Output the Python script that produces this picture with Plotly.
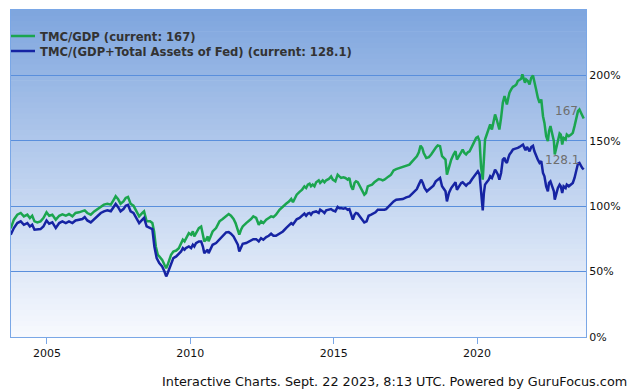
import plotly.graph_objects as go
import pandas as pd

# ---- data (decimal years, percent) ----
gdp_years = [2003.74, 2003.85, 2003.97, 2004.09, 2004.20, 2004.32, 2004.41, 2004.49, 2004.57, 2004.67,
             2004.78, 2004.88, 2004.99, 2005.08, 2005.19, 2005.31, 2005.43, 2005.54, 2005.66, 2005.77,
             2005.89, 2006.00, 2006.12, 2006.24, 2006.32, 2006.41, 2006.53, 2006.65, 2006.76, 2006.88,
             2006.99, 2007.11, 2007.23, 2007.32, 2007.40, 2007.48, 2007.57, 2007.67, 2007.75, 2007.83,
             2007.92, 2008.02, 2008.10, 2008.22, 2008.33, 2008.39, 2008.48, 2008.60, 2008.68, 2008.74,
             2008.80, 2008.87, 2008.92, 2009.02, 2009.10, 2009.16, 2009.21, 2009.27, 2009.33, 2009.41,
             2009.51, 2009.60, 2009.68, 2009.74, 2009.80, 2009.85, 2009.95, 2010.03, 2010.09, 2010.14,
             2010.20, 2010.30, 2010.38, 2010.44, 2010.49, 2010.55, 2010.61, 2010.64, 2010.73, 2010.78,
             2010.90, 2011.02, 2011.13, 2011.25, 2011.34, 2011.42, 2011.51, 2011.58, 2011.66, 2011.71,
             2011.77, 2011.83, 2011.95, 2012.04, 2012.12, 2012.20, 2012.30, 2012.39, 2012.47, 2012.55,
             2012.65, 2012.74, 2012.82, 2012.90, 2012.99, 2013.11, 2013.23, 2013.34, 2013.44, 2013.52,
             2013.58, 2013.65, 2013.71, 2013.81, 2013.90, 2013.98, 2014.04, 2014.10, 2014.16, 2014.21,
             2014.27, 2014.33, 2014.39, 2014.48, 2014.53, 2014.62, 2014.68, 2014.74, 2014.83, 2014.91,
             2014.97, 2015.06, 2015.14, 2015.20, 2015.26, 2015.34, 2015.41, 2015.49, 2015.55, 2015.61,
             2015.67, 2015.73, 2015.78, 2015.84, 2015.92, 2015.99, 2016.07, 2016.13, 2016.19, 2016.25,
             2016.34, 2016.42, 2016.50, 2016.57, 2016.66, 2016.71, 2016.77, 2016.83, 2016.92, 2017.00,
             2017.09, 2017.18, 2017.30, 2017.41, 2017.53, 2017.64, 2017.74, 2017.82, 2017.90, 2017.97,
             2018.03, 2018.09, 2018.14, 2018.23, 2018.32, 2018.40, 2018.48, 2018.57, 2018.63, 2018.71,
             2018.78, 2018.83, 2018.90, 2018.95, 2019.02, 2019.10, 2019.18, 2019.25, 2019.30, 2019.37,
             2019.45, 2019.50, 2019.56, 2019.62, 2019.68, 2019.74, 2019.83, 2019.91, 2019.97, 2020.03,
             2020.09, 2020.14, 2020.18, 2020.20, 2020.24, 2020.28, 2020.34, 2020.41, 2020.46, 2020.52,
             2020.59, 2020.63, 2020.67, 2020.73, 2020.78, 2020.84, 2020.90, 2020.96, 2020.99, 2021.04,
             2021.09, 2021.13, 2021.19, 2021.25, 2021.31, 2021.37, 2021.42, 2021.48, 2021.54, 2021.58,
             2021.62, 2021.67, 2021.71, 2021.77, 2021.83, 2021.89, 2021.95, 2022.00, 2022.06, 2022.12,
             2022.18, 2022.24, 2022.30, 2022.35, 2022.41, 2022.47, 2022.51, 2022.56, 2022.62, 2022.68,
             2022.71, 2022.76, 2022.82, 2022.88, 2022.92, 2022.97, 2023.02, 2023.09, 2023.13, 2023.20,
             2023.28, 2023.34, 2023.40, 2023.46, 2023.52, 2023.57, 2023.63, 2023.67, 2023.72]
tmc_gdp = [83.0, 89.7, 93.5, 94.8, 92.2, 93.5, 90.9, 92.7, 88.4, 87.6,
           88.4, 90.9, 95.3, 92.7, 93.5, 89.7, 92.7, 93.7, 92.7, 94.0,
           92.2, 94.8, 95.3, 96.0, 96.8, 94.8, 93.5, 96.0, 97.8, 99.9,
           101.2, 101.9, 101.2, 104.5, 107.6, 105.6, 101.9, 103.7, 106.3, 107.1,
           101.9, 100.4, 97.3, 92.2, 94.8, 96.0, 88.4, 88.4, 87.1, 80.7,
           69.2, 62.8, 61.6, 59.0, 55.2, 52.6, 55.2, 59.0, 62.8, 65.4,
           66.1, 67.9, 71.8, 74.4, 73.1, 75.6, 79.4, 78.2, 80.7, 76.9,
           79.4, 83.3, 84.5, 79.4, 73.1, 74.4, 76.9, 73.1, 78.2, 80.7,
           83.3, 88.4, 90.2, 92.7, 94.0, 92.7, 90.2, 87.1, 82.0, 78.2,
           82.0, 84.5, 87.1, 88.4, 90.2, 92.2, 91.0, 85.8, 88.4, 87.1,
           89.7, 91.0, 92.2, 91.7, 93.5, 97.3, 99.9, 101.9, 103.5, 105.5,
           103.0, 106.3, 108.8, 111.0, 112.7, 115.2, 113.9, 116.5, 117.2, 115.2,
           116.5, 115.2, 118.3, 119.8, 117.8, 119.8, 118.3, 119.8, 120.8, 122.8,
           120.3, 119.0, 124.1, 122.8, 121.6, 122.1, 121.6, 120.3, 121.6, 115.2,
           112.7, 117.8, 119.0, 118.3, 115.2, 111.4, 108.8, 110.1, 115.2, 115.7,
           116.5, 118.3, 119.8, 120.8, 120.3, 119.8, 120.3, 121.6, 122.8, 124.1,
           127.4, 128.4, 129.2, 130.0, 131.0, 131.8, 134.3, 136.1, 138.1, 141.2,
           146.3, 144.5, 140.7, 136.9, 137.5, 139.5, 142.5, 145.0, 146.4, 145.9,
           138.2, 136.9, 135.6, 124.1, 130.5, 135.6, 139.5, 142.0, 135.6, 138.2,
           142.0, 143.3, 140.7, 139.5, 141.2, 142.0, 145.9, 149.7, 152.2, 153.0,
           149.7, 130.5, 121.6, 120.3, 135.6, 151.0, 154.8, 159.9, 162.5, 158.6,
           165.0, 170.1, 167.6, 162.5, 158.6, 167.6, 179.1, 184.2, 181.6, 177.8,
           182.9, 186.7, 189.3, 191.3, 191.9, 193.1, 195.7, 196.9, 197.4, 200.8,
           198.2, 194.4, 196.9, 195.7, 193.1, 198.2, 200.0, 195.7, 189.3, 182.9,
           179.1, 181.6, 168.8, 163.7, 153.5, 149.7, 157.3, 161.2, 154.8, 149.7,
           139.5, 144.6, 151.0, 155.6, 154.8, 147.1, 152.2, 151.0, 154.8, 153.5,
           154.8, 156.1, 161.2, 167.6, 172.7, 173.9, 171.4, 168.8, 167.0]

fed_years = [2003.74, 2003.85, 2003.97, 2004.09, 2004.20, 2004.32, 2004.41, 2004.49, 2004.57, 2004.67,
             2004.78, 2004.88, 2004.99, 2005.08, 2005.19, 2005.31, 2005.43, 2005.54, 2005.66, 2005.77,
             2005.89, 2006.00, 2006.12, 2006.24, 2006.32, 2006.41, 2006.53, 2006.65, 2006.76, 2006.88,
             2006.99, 2007.11, 2007.23, 2007.32, 2007.40, 2007.48, 2007.57, 2007.67, 2007.75, 2007.83,
             2007.92, 2008.02, 2008.10, 2008.22, 2008.33, 2008.39, 2008.48, 2008.60, 2008.68, 2008.75,
             2008.83, 2008.92, 2009.02, 2009.10, 2009.16, 2009.21, 2009.27, 2009.33, 2009.41, 2009.51,
             2009.60, 2009.68, 2009.74, 2009.80, 2009.85, 2009.95, 2010.03, 2010.09, 2010.14, 2010.20,
             2010.30, 2010.38, 2010.44, 2010.49, 2010.55, 2010.61, 2010.64, 2010.73, 2010.78, 2010.90,
             2011.02, 2011.13, 2011.25, 2011.34, 2011.42, 2011.51, 2011.58, 2011.66, 2011.71, 2011.77,
             2011.83, 2011.95, 2012.04, 2012.12, 2012.20, 2012.30, 2012.39, 2012.47, 2012.55, 2012.65,
             2012.74, 2012.82, 2012.90, 2012.99, 2013.11, 2013.23, 2013.34, 2013.44, 2013.52, 2013.58,
             2013.65, 2013.71, 2013.81, 2013.90, 2013.98, 2014.04, 2014.10, 2014.16, 2014.21, 2014.27,
             2014.39, 2014.48, 2014.53, 2014.62, 2014.68, 2014.74, 2014.83, 2014.91, 2014.97, 2015.06,
             2015.14, 2015.20, 2015.26, 2015.34, 2015.41, 2015.49, 2015.55, 2015.61, 2015.67, 2015.73,
             2015.78, 2015.84, 2015.92, 2015.99, 2016.07, 2016.15, 2016.22, 2016.31, 2016.39, 2016.46,
             2016.54, 2016.60, 2016.69, 2016.77, 2016.83, 2016.92, 2017.00, 2017.09, 2017.18, 2017.30,
             2017.41, 2017.53, 2017.64, 2017.74, 2017.82, 2017.90, 2017.97, 2018.05, 2018.11, 2018.17,
             2018.25, 2018.32, 2018.40, 2018.48, 2018.56, 2018.63, 2018.71, 2018.78, 2018.83, 2018.90,
             2018.95, 2019.02, 2019.10, 2019.18, 2019.25, 2019.30, 2019.37, 2019.45, 2019.50, 2019.56,
             2019.62, 2019.68, 2019.74, 2019.83, 2019.91, 2019.97, 2020.03, 2020.09, 2020.14, 2020.18,
             2020.20, 2020.24, 2020.28, 2020.34, 2020.41, 2020.46, 2020.52, 2020.59, 2020.63, 2020.67,
             2020.73, 2020.78, 2020.84, 2020.90, 2020.96, 2020.99, 2021.04, 2021.09, 2021.13, 2021.19,
             2021.25, 2021.31, 2021.37, 2021.42, 2021.48, 2021.54, 2021.60, 2021.65, 2021.69, 2021.74,
             2021.78, 2021.83, 2021.89, 2021.95, 2022.00, 2022.06, 2022.12, 2022.18, 2022.24, 2022.30,
             2022.35, 2022.41, 2022.47, 2022.51, 2022.56, 2022.62, 2022.68, 2022.71, 2022.76, 2022.82,
             2022.88, 2022.92, 2022.97, 2023.02, 2023.09, 2023.13, 2023.20, 2023.28, 2023.34, 2023.40,
             2023.46, 2023.52, 2023.57, 2023.63, 2023.67, 2023.72]
tmc_gdp_fed = [78.2, 83.3, 87.1, 88.4, 85.8, 87.1, 84.5, 85.8, 82.0, 82.0,
               82.5, 84.5, 89.1, 86.6, 87.6, 83.3, 87.1, 88.4, 87.1, 88.4,
               87.1, 89.1, 89.7, 90.2, 91.7, 89.1, 87.6, 90.2, 92.2, 94.8,
               96.1, 96.8, 96.1, 98.6, 101.7, 99.4, 96.1, 97.8, 100.4, 101.1,
               96.1, 94.8, 91.7, 87.1, 89.7, 91.0, 84.5, 83.3, 82.5, 69.2,
               60.3, 56.5, 53.9, 50.1, 46.3, 48.8, 52.6, 56.5, 60.3, 61.6,
               64.1, 65.4, 68.0, 66.7, 68.0, 69.2, 68.0, 70.5, 69.2, 71.8,
               73.1, 73.1, 69.2, 64.1, 65.4, 66.7, 64.1, 68.0, 70.5, 71.8,
               74.8, 77.4, 80.0, 80.2, 79.0, 76.9, 74.4, 70.5, 65.4, 69.2,
               71.3, 71.8, 73.1, 73.8, 74.8, 74.8, 73.1, 75.6, 74.4, 76.4,
               77.4, 79.0, 77.4, 77.4, 79.4, 80.7, 83.3, 85.0, 87.0, 86.0,
               88.0, 90.0, 91.0, 92.7, 94.3, 92.7, 94.3, 94.8, 93.5, 95.3,
               96.0, 94.8, 97.3, 96.0, 94.8, 96.8, 97.3, 97.8, 96.8, 96.0,
               99.4, 98.4, 98.6, 98.1, 98.6, 97.3, 97.8, 93.5, 89.7, 93.5,
               94.8, 94.3, 92.2, 89.7, 87.6, 88.4, 92.7, 93.5, 94.3, 95.3,
               97.3, 97.3, 96.8, 97.3, 97.8, 99.9, 101.1, 103.7, 105.0, 105.0,
               105.5, 106.8, 107.5, 109.6, 111.4, 113.1, 116.5, 120.3, 117.7, 113.9,
               111.4, 112.6, 114.7, 115.7, 119.0, 120.5, 121.6, 115.2, 113.9, 111.4,
               103.7, 110.1, 113.9, 116.5, 118.3, 112.6, 115.2, 117.8, 118.3, 117.2,
               115.7, 117.2, 117.8, 120.8, 123.4, 125.4, 126.7, 124.1, 111.4, 99.9,
               96.8, 110.1, 116.5, 118.3, 120.3, 122.9, 121.6, 125.4, 128.0, 126.7,
               124.1, 120.3, 125.4, 135.6, 136.9, 134.4, 133.1, 136.9, 139.5, 141.3,
               143.3, 143.8, 144.6, 144.6, 145.3, 145.9, 147.1, 144.6, 142.8, 145.3,
               143.3, 142.0, 145.3, 146.2, 142.0, 138.2, 135.6, 133.1, 134.4, 125.4,
               122.9, 115.2, 111.4, 117.8, 119.0, 115.2, 111.4, 105.0, 110.1, 113.9,
               116.5, 115.2, 110.1, 115.2, 113.9, 116.5, 115.2, 116.5, 117.8, 121.6,
               128.0, 132.6, 133.1, 130.5, 129.2, 128.1]

x_range_years = [2003.75, 2023.80]
x_ticks = [2005, 2010, 2015, 2020]
y_ticks = [0, 50, 100, 150, 200]
y_range = [0, 250]
series_names = ["TMC/GDP", "TMC/(GDP+Total Assets of Fed)"]
series_colors = ["#1ba54f", "#1624a3"]
footer = "Interactive Charts. Sept. 22 2023, 8:13 UTC. Powered by GuruFocus.com"


def to_date(y):
    base = int(y)
    return pd.Timestamp(f"{base}-01-01") + pd.Timedelta(days=(y - base) * 365.25)


gdp_dates = [to_date(y) for y in gdp_years]
fed_dates = [to_date(y) for y in fed_years]

FONT = "DejaVu Sans"
fig = go.Figure()

cur_g = tmc_gdp[-1]
cur_b = tmc_gdp_fed[-1]
fig.add_trace(go.Scatter(x=gdp_dates, y=tmc_gdp, mode="lines",
                         name=f"{series_names[0]} (current: {cur_g:g})",
                         line=dict(color=series_colors[0], width=2.5), legend="legend"))
fig.add_trace(go.Scatter(x=fed_dates, y=tmc_gdp_fed, mode="lines",
                         name=f"{series_names[1]} (current: {cur_b:g})",
                         line=dict(color=series_colors[1], width=2.5), legend="legend2"))

# gradient plot background (bands in the axis domain)
top = (126, 165, 222)
bot = (248, 250, 254)
N = 60
shapes = []
for i in range(N):
    t = (i + 0.5) / N  # 0 bottom -> 1 top
    c = tuple(round(bot[k] + (top[k] - bot[k]) * t) for k in range(3))
    shapes.append(dict(type="rect", xref="x domain", yref="y domain",
                       x0=0, x1=1, y0=i / N, y1=(i + 1) / N + 0.002,
                       fillcolor=f"rgb{c}", line=dict(width=0), layer="below"))

annotations = [
    dict(x=gdp_dates[-1], y=cur_g, xref="x", yref="y", text=f"{cur_g:g}", showarrow=False,
         xanchor="right", yanchor="middle", xshift=-4, yshift=8,
         font=dict(family=FONT, size=12, color="#6e6e6e")),
    dict(x=fed_dates[-1], y=cur_b, xref="x", yref="y", text=f"{cur_b:g}", showarrow=False,
         xanchor="right", yanchor="middle", xshift=-3, yshift=9,
         font=dict(family=FONT, size=12, color="#6e6e6e")),
    dict(x=1.074, y=-0.135, xref="paper", yref="paper", text=footer, showarrow=False,
         xanchor="right", yanchor="middle", font=dict(family=FONT, size=12.8, color="#111")),
]

legend_common = dict(xanchor="left", yanchor="middle", bgcolor="rgba(0,0,0,0)",
                     borderwidth=0, indentation=-11,
                     font=dict(family=FONT, size=11.6, color="#333", weight="bold"))

fig.update_layout(
    width=640, height=392,
    margin=dict(l=11, r=54, t=10, b=55),
    paper_bgcolor="white",
    plot_bgcolor="rgba(0,0,0,0)",
    shapes=shapes,
    annotations=annotations,
    showlegend=True,
    legend=dict(x=0, y=0.9205, **legend_common),
    legend2=dict(x=0, y=0.8746, **legend_common),
    xaxis=dict(type="date", range=[to_date(x_range_years[0]), to_date(x_range_years[1])],
               tickvals=[pd.Timestamp(f"{y}-01-01") for y in x_ticks],
               ticktext=[str(y) for y in x_ticks],
               ticks="outside", ticklen=6, tickcolor="#7aa7e6", tickwidth=1,
               showgrid=False, showline=True, linecolor="#7aa7e6", linewidth=1, mirror=True,
               tickfont=dict(family=FONT, size=11, color="#111"), zeroline=False),
    yaxis=dict(side="right", range=y_range, tickvals=y_ticks,
               ticktext=[f"{v}%" for v in y_ticks], ticks="",
               showgrid=True, gridcolor="#5a8fdc", gridwidth=1,
               showline=True, linecolor="#7aa7e6", linewidth=1, mirror=True,
               zeroline=False, tickfont=dict(family=FONT, size=11, color="#111")),
)

fig.write_html("out.html", config={"displayModeBar": False},
               post_script="document.body.style.margin='0';")
